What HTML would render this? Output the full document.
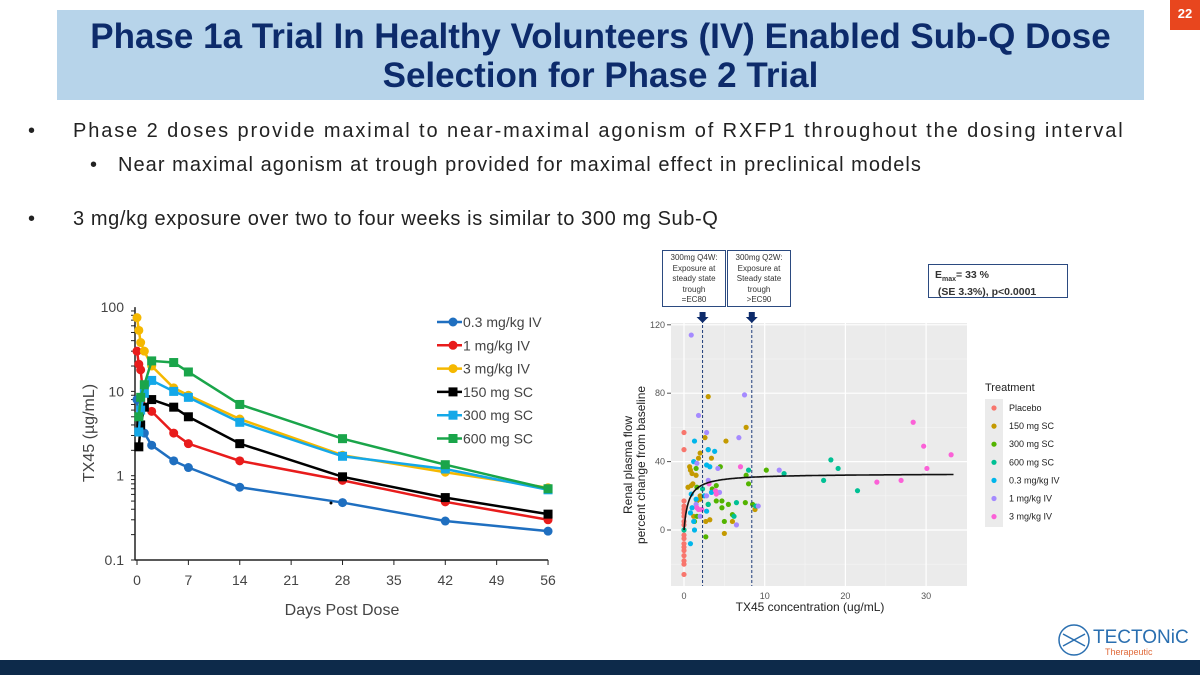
<!DOCTYPE html>
<html><head><meta charset="utf-8"><style>
body{margin:0;width:1200px;height:675px;background:#fff;position:relative;overflow:hidden;font-family:"Liberation Sans",sans-serif}
.t{position:absolute}
.b{position:absolute;font-size:20px;color:#222;white-space:nowrap}
</style></head><body>
<div class="t" style="left:57px;top:10px;width:1087px;height:90px;background:#b7d4ea;text-align:center;color:#0d2b6b;font-weight:bold;font-size:35px;line-height:39px;padding-top:7px;box-sizing:border-box">Phase 1a Trial In Healthy Volunteers (IV) Enabled Sub-Q Dose<br>Selection for Phase 2 Trial</div>
<div class="t" style="left:1170px;top:0;width:30px;height:30px;background:#e8461e;color:#fff;font-size:13px;font-weight:bold;text-align:center;line-height:28px">22</div>
<div class="b" style="left:28px;top:120px">•</div>
<div class="b" style="left:73px;top:120px;letter-spacing:1.9px">Phase 2 doses provide maximal to near-maximal agonism of RXFP1 throughout the dosing interval</div>
<div class="b" style="left:90px;top:154px">•</div>
<div class="b" style="left:118px;top:154px;letter-spacing:1.05px">Near maximal agonism at trough provided for maximal effect in preclinical models</div>
<div class="b" style="left:28px;top:208px">•</div>
<div class="b" style="left:73px;top:208px;letter-spacing:0.6px">3 mg/kg exposure over two to four weeks is similar to 300 mg Sub-Q</div>
<div class="t" style="left:0;top:660px;width:1200px;height:15px;background:#0d2a4a"></div>
<svg class="t" style="left:1050px;top:620px" width="150" height="40">
<circle cx="24" cy="20" r="15" fill="none" stroke="#2a6fb0" stroke-width="1.5"/>
<path d="M13 14 L24 20 L13 26 M35 14 L24 20 L35 26" stroke="#2a6fb0" stroke-width="1.5" fill="none"/>
<text x="43" y="23" font-size="19" fill="#2a6fb0" font-family="Liberation Sans">TECTONiC</text>
<text x="55" y="35" font-size="9" fill="#e06a3a" font-family="Liberation Sans">Therapeutic</text>
</svg>
<svg id="pk" class="t" style="left:0;top:0" width="600" height="675"></svg>
<svg id="er" class="t" style="left:0;top:0" width="1200" height="675"></svg>
<script>
const pkTimes=[0,0.25,0.5,1,2,5,7,14,28,42,56];
const pkSeriesNames=["0.3 mg/kg IV","1 mg/kg IV","3 mg/kg IV","150 mg SC","300 mg SC","600 mg SC"];
const pk03=[8,3.3,4,3.2,2.3,1.5,1.25,0.73,0.48,0.29,0.22];
const pk1=[30,21,18,6.5,5.8,3.2,2.4,1.5,0.88,0.49,0.3];
const pk3=[75,53,38,30,20,11,9,4.7,1.75,1.1,0.72];
const pk150=[null,2.2,4,6.5,8,6.5,5,2.4,0.97,0.55,0.35];
const pk300=[null,3.3,6,9.5,13.5,10,8.5,4.3,1.7,1.2,0.68];
const pk600=[null,5,8.5,12,23,22,17,7,2.75,1.35,0.7];
const pkXTicks=[0,7,14,21,28,35,42,49,56];
const pkYTicks=[100,10,1,0.1];

const erCurveEmax=33, erCurveEC50=0.575;
const placeboY=[57,47,17,14,12,10,8,5,3,0,-3,-5,-8,-10,-12,-15,-18,-20,-26];
const sc150X=[3,7.7,2.6,5.2,3,2,3.4,1.8,0.7,0.8,1,1.5,1.1,0.5,0.9,2,1.6,1.2,2.7,3.2,6,5,8.8,2];
const sc150Y=[78,60,54,52,47,45,42,42,37,35,33,32,27,25,26,20,17,8,5,6,5,-2,12,18];
const sc300X=[1.5,4.5,7.7,10.2,8,4,3.5,1.6,4.7,4,5.5,4.7,6,7.6,8.5,5,2.7,1.3,1.6,3];
const sc300Y=[36,37,32,35,27,26,24,25,17,17,15,13,9,16,15,5,-4,5,8,15];
const sc600X=[18.2,19.1,12.4,8,17.3,21.5,6.5,6.2,0,2.3,3,8.9];
const sc600Y=[41,36,33,35,29,23,16,8,0,24,15,14];
const iv03X=[1.3,3,3.8,2.8,3.2,1.2,0.9,1.5,1,0.8,2.8,1.3,0.8,2.5,3.4,1.2];
const iv03Y=[52,47,46,38,37,40,21,18,13,10,11,0,-8,20,22,5];
const iv1X=[0.9,7.5,1.8,2.8,6.8,1.6,4.2,11.8,3,4.4,2.8,9.2,6.5,1.5,2];
const iv1Y=[114,79,67,57,54,39,36,35,29,22,20,14,3,15,8];
const iv3X=[28.4,29.7,33.1,30.1,7,23.9,26.9,3.9,4,1.6,1.8,2.2,3.1];
const iv3Y=[63,49,44,36,37,28,29,23,21,13,12,12,27];
const erXTicks=[0,10,20,30];
const erYTicks=[0,40,80,120];
const erGroups=["Placebo","150 mg SC","300 mg SC","600 mg SC","0.3 mg/kg IV","1 mg/kg IV","3 mg/kg IV"];

const NS="http://www.w3.org/2000/svg";
function mk(p,tag,a,txt){const e=document.createElementNS(NS,tag);for(const k in a)e.setAttribute(k,a[k]);if(txt!=null)e.textContent=txt;p.appendChild(e);return e;}

const pk=document.getElementById('pk');
const px=t=>137+t*7.34;
const py=v=>560-(Math.log10(v)+1)*84.3;
let e;
e=mk(pk,'line',{x1:px(0)-2,y1:py(100),x2:px(0)-2,y2:py(0.1),stroke:'#222','stroke-width':1.5});

e=mk(pk,'line',{x1:px(0)-2,y1:py(0.1),x2:px(56),y2:py(0.1),stroke:'#222','stroke-width':1.5});

for(let d=-1;d<2;d++)for(let m=1;m<10;m++){const v=m*Math.pow(10,d);mk(pk,'line',{x1:px(0)-6,x2:px(0)-2,y1:py(v),y2:py(v),stroke:'#222','stroke-width':1});}
pkYTicks.forEach(v=>{e=mk(pk,'text',{x:124,y:py(v)+5,'text-anchor':'end','font-size':14,fill:'#444'},String(v));
});
pkXTicks.forEach(v=>{mk(pk,'line',{x1:px(v),x2:px(v),y1:py(0.1),y2:py(0.1)+5,stroke:'#222'});
e=mk(pk,'text',{x:px(v),y:585,'text-anchor':'middle','font-size':14,fill:'#444'},String(v));
});
e=mk(pk,'text',{x:342,y:615,'text-anchor':'middle','font-size':16,fill:'#444'},'Days Post Dose');

e=mk(pk,'text',{x:0,y:0,transform:'translate(94,433) rotate(-90)','text-anchor':'middle','font-size':16,fill:'#444'},'TX45 (µg/mL)');

const pkData=[pk03,pk1,pk3,pk150,pk300,pk600];
const pkColors=['#1f6fc0','#e81c1c','#f5b800','#000','#14a8e8','#1aa54a'];
const pkShapes=['c','c','c','s','s','s'];
pkData.forEach((arr,i)=>{
  const pts=[];arr.forEach((v,j)=>{if(v!=null)pts.push([px(pkTimes[j]),py(v)]);});
  e=mk(pk,'polyline',{points:pts.map(p=>p.join(',')).join(' '),fill:'none',stroke:pkColors[i],'stroke-width':2.5});
  
  pts.forEach(p=>{
    if(pkShapes[i]=='c')e=mk(pk,'circle',{cx:p[0],cy:p[1],r:4.5,fill:pkColors[i]});
    else e=mk(pk,'rect',{x:p[0]-4.5,y:p[1]-4.5,width:9,height:9,fill:pkColors[i]});
    
  });
  const ly=322+i*23.3;
  e=mk(pk,'line',{x1:437,x2:462,y1:ly,y2:ly,stroke:pkColors[i],'stroke-width':2.5});
  
  if(pkShapes[i]=='c')mk(pk,'circle',{cx:453,cy:ly,r:4.5,fill:pkColors[i]});else mk(pk,'rect',{x:448.5,y:ly-4.5,width:9,height:9,fill:pkColors[i]});
  e=mk(pk,'text',{x:463,y:ly+5,'font-size':14,fill:'#444'},pkSeriesNames[i]);
  
});
mk(pk,'circle',{cx:331,cy:503,r:1.5,fill:'#000'});

const er=document.getElementById('er');
const ex=v=>684+v*8.07;
const ey=v=>530-v*1.71;
e=mk(er,'rect',{x:671,y:323,width:296,height:263,fill:'#ebebeb'});

[5,15,25].forEach(v=>mk(er,'line',{x1:ex(v),x2:ex(v),y1:323,y2:586,stroke:'#f5f5f5','stroke-width':0.6}));
[-20,20,60,100].forEach(v=>mk(er,'line',{x1:671,x2:967,y1:ey(v),y2:ey(v),stroke:'#f5f5f5','stroke-width':0.6}));
erXTicks.forEach(v=>{mk(er,'line',{x1:ex(v),x2:ex(v),y1:323,y2:586,stroke:'#fff','stroke-width':1.2});
e=mk(er,'text',{x:ex(v),y:599,'text-anchor':'middle','font-size':9,fill:'#555'},String(v));
});
erYTicks.forEach(v=>{mk(er,'line',{x1:671,x2:967,y1:ey(v),y2:ey(v),stroke:'#fff','stroke-width':1.2});
mk(er,'line',{x1:667,x2:671,y1:ey(v),y2:ey(v),stroke:'#555'});
e=mk(er,'text',{x:665,y:ey(v)+3,'text-anchor':'end','font-size':9,fill:'#555'},String(v));
});
e=mk(er,'text',{x:810,y:611,'text-anchor':'middle','font-size':12,fill:'#222'},'TX45 concentration (ug/mL)');

e=mk(er,'text',{transform:'translate(632,465) rotate(-90)','text-anchor':'middle','font-size':12,fill:'#222'},'Renal plasma flow');

mk(er,'text',{transform:'translate(645,465) rotate(-90)','text-anchor':'middle','font-size':12,fill:'#222'},'percent change from baseline');
const erColors=['#f8766d','#c49a00','#53b400','#00c094','#00b6eb','#a58aff','#fb61d7'];
const xs=[placeboY.map(()=>0),sc150X,sc300X,sc600X,iv03X,iv1X,iv3X];
const ys=[placeboY,sc150Y,sc300Y,sc600Y,iv03Y,iv1Y,iv3Y];
ys.forEach((arr,g)=>arr.forEach((v,j)=>{e=mk(er,'circle',{cx:ex(xs[g][j]),cy:ey(v),r:2.6,fill:erColors[g]});
}));
let d='';for(let x=0;x<=33.5;x+=0.1){const y=erCurveEmax*x/(erCurveEC50+x);d+=(x?'L':'M')+ex(x).toFixed(1)+' '+ey(y).toFixed(1);}
e=mk(er,'path',{d:d,fill:'none',stroke:'#111','stroke-width':1.6});

[[2.3,'ec80-line'],[8.4,'ec90-line']].forEach(([v,n])=>{e=mk(er,'line',{x1:ex(v),x2:ex(v),y1:320,y2:586,stroke:'#1f3d7a','stroke-dasharray':'3,2'});

e=mk(er,'path',{d:`M${ex(v)-3} 312 h6 v5 h3 l-6 6 l-6 -6 h3 z`,fill:'#0d2b6b'});
});
e=mk(er,'text',{x:985,y:391,'font-size':11,fill:'#222'},'Treatment');

mk(er,'rect',{x:985,y:399,width:18,height:128,fill:'#ebebeb'});
erGroups.forEach((g,i)=>{const y=408+i*18.1;mk(er,'circle',{cx:994,cy:y,r:2.6,fill:erColors[i]});
e=mk(er,'text',{x:1009,y:y+3,'font-size':9,fill:'#222'},g);
});
</script>
<div class="t" style="left:662px;top:250px;width:64px;height:57px;border:1.5px solid #2b4a80;box-sizing:border-box;font-size:8px;line-height:10.5px;text-align:center;color:#333;padding-top:2px">300mg Q4W:<br>Exposure at<br>steady state<br>trough<br>=EC80</div>
<div class="t" style="left:727px;top:250px;width:64px;height:57px;border:1.5px solid #2b4a80;box-sizing:border-box;font-size:8px;line-height:10.5px;text-align:center;color:#333;padding-top:2px">300mg Q2W:<br>Exposure at<br>Steady state<br>trough<br>&gt;EC90</div>
<div class="t" style="left:928px;top:264px;width:140px;height:34px;border:1.5px solid #2b4a80;box-sizing:border-box;font-size:10.5px;line-height:12px;color:#333;font-weight:bold;padding:4px 0 0 6px">E<sub style="font-size:7px">max</sub>= 33 %<br>&nbsp;(SE 3.3%), p&lt;0.0001</div>
</body></html>
